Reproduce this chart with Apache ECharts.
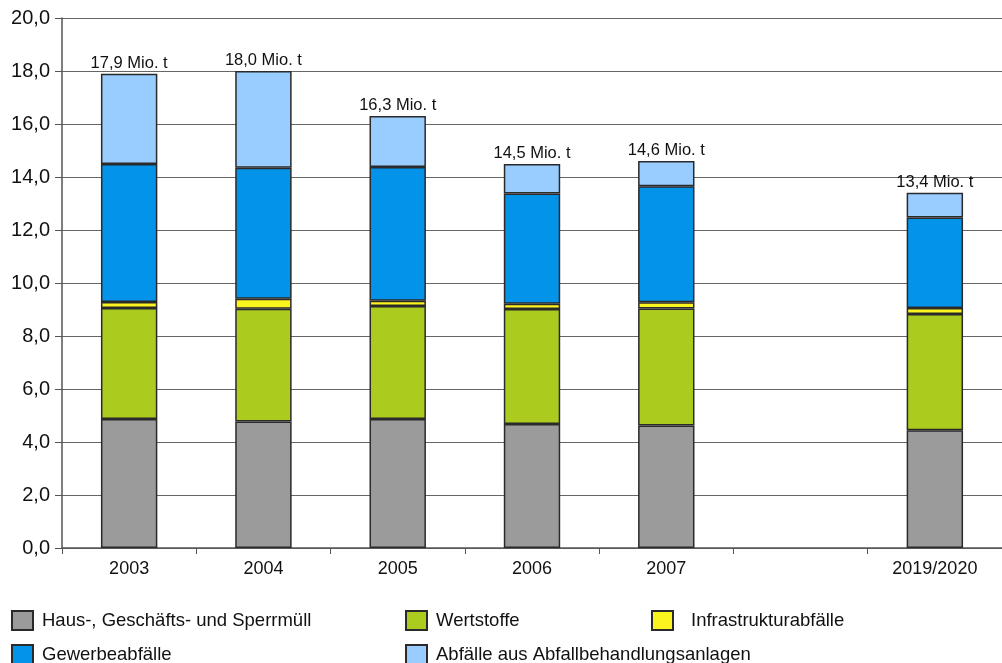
<!DOCTYPE html>
<html>
<head>
<meta charset="utf-8">
<script src="https://cdn.jsdelivr.net/npm/echarts@6/dist/echarts.min.js"></script>
<style>
  html, body { margin: 0; padding: 0; background: #fff; }
  #chart { width: 1002px; height: 663px; }
</style>
</head>
<body>
<div id="chart"></div>
<script>
// Kategorien (leere Kategorie als Lücke zwischen 2007 und 2019/2020)
const categories = ['2003', '2004', '2005', '2006', '2007', '', '2019/2020'];

// Werte in Mio. t
const hausmuell = [4.87, 4.77, 4.87, 4.68, 4.62, '-', 4.44];
const wertstoffe = [4.19, 4.26, 4.26, 4.34, 4.42, '-', 4.39];
const infrastruktur = [0.22, 0.38, 0.20, 0.20, 0.23, '-', 0.23];
const gewerbe = [5.21, 4.94, 5.05, 4.16, 4.38, '-', 3.41];
const behandlung = [3.41, 3.65, 1.92, 1.11, 0.95, '-', 0.94];

// Summenbeschriftung über den Säulen
const totalLabels = ['17,9 Mio. t', '18,0 Mio. t', '16,3 Mio. t', '14,5 Mio. t', '14,6 Mio. t', '', '13,4 Mio. t'];

const yTicks = [0, 2, 4, 6, 8, 10, 12, 14, 16, 18, 20];

const NAMES = [
  'Haus-, Geschäfts- und Sperrmüll',
  'Wertstoffe',
  'Infrastrukturabfälle',
  'Gewerbeabfälle',
  'Abfälle aus Abfallbehandlungsanlagen'
];
const COLORS = ['#9b9b9b', '#abcb1e', '#fbf41e', '#0393e8', '#99ccff'];
const FONT = 'Liberation Sans, Arial, sans-serif';

const chart = echarts.init(document.getElementById('chart'));

function barSeries(idx, data) {
  return {
    name: NAMES[idx],
    type: 'bar',
    stack: 'total',
    data: data,
    barWidth: '42%',
    itemStyle: {
      color: COLORS[idx],
      borderColor: '#2a2a2a',
      borderWidth: 1.5
    }
  };
}

const series = [
  barSeries(0, hausmuell),
  barSeries(1, wertstoffe),
  barSeries(2, infrastruktur),
  barSeries(3, gewerbe),
  barSeries(4, behandlung)
];
// Summe oben auf der obersten Schicht
series[4].label = {
  show: true,
  position: 'top',
  distance: 2,
  color: '#111',
  fontFamily: FONT,
  fontSize: 16.5,
  formatter: p => totalLabels[p.dataIndex]
};

function legendItem(idx, left, top, gap) {
  return {
    data: [NAMES[idx]],
    left: left,
    top: top,
    padding: 0,
    icon: 'rect',
    itemWidth: 21,
    itemHeight: 19,
    selectedMode: false,
    textStyle: {
      fontFamily: FONT,
      fontSize: 18.5,
      color: '#111',
      padding: [0, 0, 0, gap]
    }
  };
}

chart.setOption({
  animation: false,
  backgroundColor: '#fff',
  grid: { left: 62, right: 0, top: 18, bottom: 115 },
  legend: [
    legendItem(0, 11, 610, 4),
    legendItem(1, 405, 610, 4),
    legendItem(2, 651, 610, 13),
    legendItem(3, 11, 644, 4),
    legendItem(4, 405, 644, 4)
  ],
  xAxis: {
    type: 'category',
    data: categories,
    boundaryGap: true,
    axisLine: { lineStyle: { color: '#555', width: 1.5 } },
    axisTick: { show: true, length: 6, lineStyle: { color: '#555' } },
    axisLabel: {
      color: '#111',
      fontFamily: FONT,
      fontSize: 18,
      margin: 12
    }
  },
  yAxis: {
    type: 'value',
    min: yTicks[0],
    max: yTicks[yTicks.length - 1],
    interval: 2,
    axisLine: { show: true, lineStyle: { color: '#555', width: 1.5 } },
    axisTick: { show: true, inside: false, length: 7, lineStyle: { color: '#555' } },
    splitLine: { show: true, lineStyle: { color: '#666', width: 1 } },
    axisLabel: {
      color: '#111',
      fontFamily: FONT,
      fontSize: 20,
      margin: 12,
      formatter: v => v.toFixed(1).replace('.', ',')
    }
  },
  series: series
});
</script>
</body>
</html>
